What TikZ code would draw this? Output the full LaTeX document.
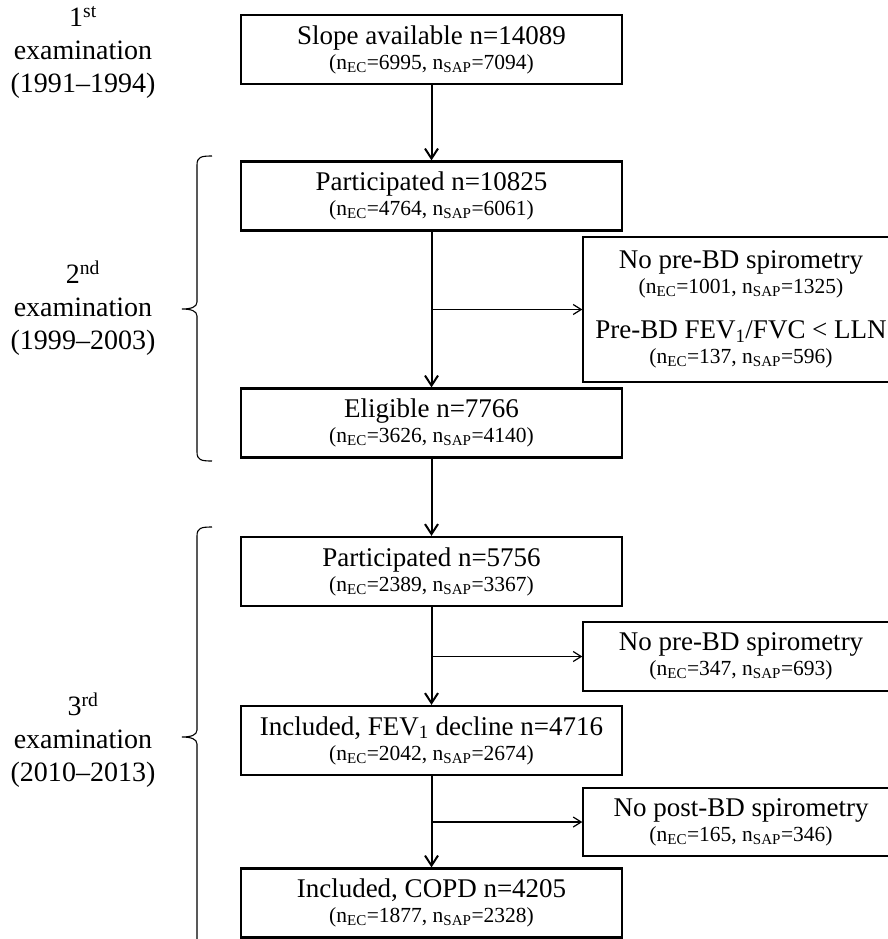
\documentclass[tikz,border=0pt]{standalone}
\usepackage{fontspec}
\setmainfont{Liberation Serif}
\usetikzlibrary{arrows.meta}

\newcommand{\mainsize}{\fontsize{27}{30}\selectfont}
\newcommand{\subsize}{\fontsize{21.5}{25}\selectfont}
\newcommand{\nsplit}[2]{(n\textsubscript{EC}=#1, n\textsubscript{SAP}=#2)}

\tikzset{
    mainbox/.style={draw, line width=2.2pt, minimum width=381pt, minimum height=69pt, inner sep=2pt, align=center, font=\subsize},
    sidebox/.style={draw, line width=1.4pt, minimum width=316pt, inner sep=2pt, align=center, font=\subsize},
    flow/.style={line width=2pt, -{Straight Barb[length=10pt,width=13pt]}},
    branch/.style={line width=1.2pt, -{Straight Barb[length=8pt,width=10pt]}},
    exam/.style={align=center, font=\fontsize{28}{33}\selectfont},
    period/.style={line width=1.1pt},
}

\begin{document}
\begin{tikzpicture}[x=1pt, y=-1pt]
    \useasboundingbox (0,0) rectangle (887,939);

    % examinations
    \node[exam] (first) at (83,52) {1\textsuperscript{st}\\examination\\(1991–1994)};
    \node[exam] (second) at (83,308) {2\textsuperscript{nd}\\examination\\(1999–2003)};
    \node[exam] (third) at (83,740) {3\textsuperscript{rd}\\examination\\(2010–2013)};
    \draw[period] (212,156) .. controls (201,156) and (197,157) .. (197,165) -- (197,302)
        .. controls (197,307) and (191,309) .. (182,309) .. controls (191,309) and (197,311) .. (197,316)
        -- (197,452) .. controls (197,460) and (201,461) .. (212,461);
    \draw[period] (212,527) .. controls (201,527) and (197,528) .. (197,536) -- (197,730)
        .. controls (197,735) and (191,737) .. (182,737) .. controls (191,737) and (197,739) .. (197,744)
        -- (197,960);

    % main column
    \node[mainbox] (slope) at (431.5,49.5) {{\mainsize Slope available n=14089}\\\nsplit{6995}{7094}};
    \node[mainbox] (part1) at (431.5,196) {{\mainsize Participated n=10825}\\\nsplit{4764}{6061}};
    \node[mainbox] (elig) at (431.5,423) {{\mainsize Eligible n=7766}\\\nsplit{3626}{4140}};
    \node[mainbox] (part2) at (431.5,571.5) {{\mainsize Participated n=5756}\\\nsplit{2389}{3367}};
    \node[mainbox] (incl) at (431.5,740.5) {{\mainsize Included, FEV\textsubscript{1} decline n=4716}\\\nsplit{2042}{2674}};
    \node[mainbox] (copd) at (431.5,903) {{\mainsize Included, COPD n=4205}\\\nsplit{1877}{2328}};

    % exclusions
    \node[sidebox, minimum height=145pt] (excl1) at (741,309.5) {{\mainsize No pre-BD spirometry}\\\nsplit{1001}{1325}\\[20pt]{\mainsize Pre-BD FEV\textsubscript{1}/FVC < LLN}\\\nsplit{137}{596}};
    \node[sidebox, minimum height=69pt] (excl2) at (741,656.5) {{\mainsize No pre-BD spirometry}\\\nsplit{347}{693}};
    \node[sidebox, minimum height=68pt] (excl3) at (741,822) {{\mainsize No post-BD spirometry}\\\nsplit{165}{346}};

    \draw[flow] (slope) -- (part1);
    \draw[flow] (part1) -- (elig);
    \draw[flow] (elig) -- (part2);
    \draw[flow] (part2) -- (incl);
    \draw[flow] (incl) -- (copd);

    \draw[branch] (part1.south |- excl1.west) -- (excl1.west);
    \draw[branch] (part2.south |- excl2.west) -- (excl2.west);
    \draw[branch] (incl.south |- excl3.west) -- (excl3.west);
\end{tikzpicture}
\end{document}
